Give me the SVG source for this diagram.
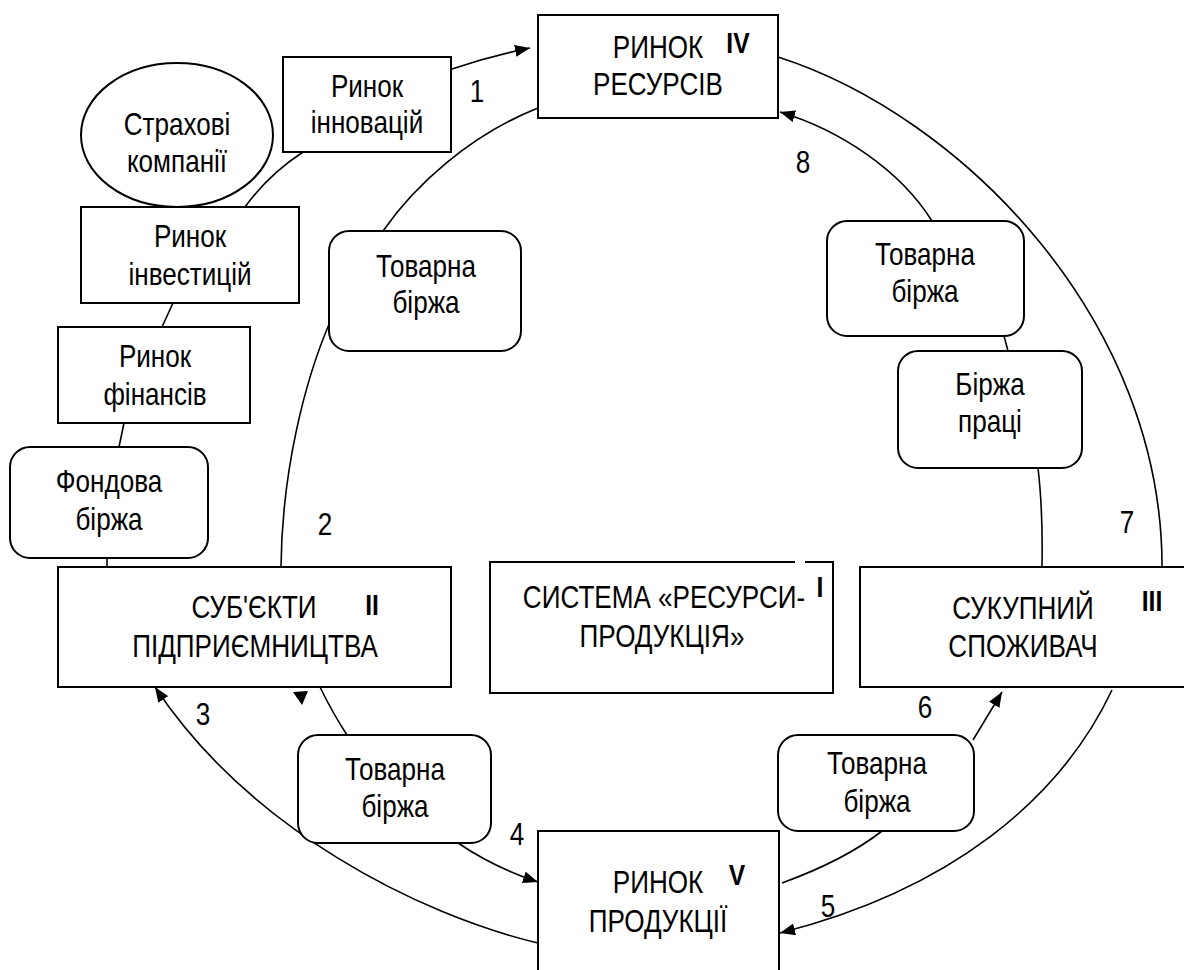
<svg xmlns="http://www.w3.org/2000/svg" width="1184" height="970" viewBox="0 0 1184 970">
<style>
.box{fill:#fff;stroke:#000;stroke-width:2}
.ln{fill:none;stroke:#000;stroke-width:1.6}
.t{font-family:"Liberation Sans",Arial,sans-serif;font-size:30.5px;fill:#000;text-anchor:middle}
.b{font-family:"Liberation Sans",Arial,sans-serif;font-size:29px;font-weight:bold;fill:#000;text-anchor:middle}
.n{font-family:"Liberation Sans",Arial,sans-serif;font-size:30.5px;fill:#000;text-anchor:middle}
</style>
<defs>
<marker id="ah" markerUnits="userSpaceOnUse" markerWidth="16" markerHeight="12" refX="15" refY="6" orient="auto">
<path d="M0,0 L15,6 L0,12 z" fill="#000"/>
</marker>
</defs>
<rect width="1184" height="970" fill="#fff"/>

<g id="connectors">
<path class="ln" d="M452,69 Q490,56 530,48" marker-end="url(#ah)"/>
<path class="ln" d="M303,152 Q268,175 245,207"/>
<path class="ln" d="M173,303 L162,327"/>
<path class="ln" d="M124,423 L119,447"/>
<path class="ln" d="M107,557 L107,567"/>
<path class="ln" d="M538,108 C470,135 415,185 383,231"/>
<path class="ln" d="M330,322 C305,380 282,470 281,567"/>
<path class="ln" d="M538,943 C420,915 250,830 155,687" marker-end="url(#ah)"/>
<path class="ln" d="M347,735 Q332,712 320,687"/>
<polygon points="293,692 308,691 302,705" fill="#000"/>
<path class="ln" d="M458,843 Q495,868 538,882" marker-end="url(#ah)"/>
<path class="ln" d="M782,883 Q845,860 882,831"/>
<path class="ln" d="M973,740 L1002,692" marker-end="url(#ah)"/>
<path class="ln" d="M1112,690 C1060,800 950,890 780,933" marker-end="url(#ah)"/>
<path class="ln" d="M1038,468 Q1043,510 1042,567"/>
<path class="ln" d="M1004,336 L1008,351"/>
<path class="ln" d="M932,221 C900,170 840,130 780,112" marker-end="url(#ah)"/>
<path class="ln" d="M778,57 C960,115 1165,320 1162,572"/>
<polygon points="1153,622 1161,622 1157,629" fill="#000"/>
<text class="n" transform="translate(477,102) scale(0.855,1)">1</text>
<text class="n" transform="translate(325,535) scale(0.855,1)">2</text>
<text class="n" transform="translate(203,725) scale(0.855,1)">3</text>
<text class="n" transform="translate(517,845) scale(0.855,1)">4</text>
<text class="n" transform="translate(828,917) scale(0.855,1)">5</text>
<text class="n" transform="translate(925,718) scale(0.855,1)">6</text>
<text class="n" transform="translate(1127,533) scale(0.855,1)">7</text>
<text class="n" transform="translate(803,173) scale(0.855,1)">8</text>
</g>

<g id="rynok-resursiv">
<rect class="box" x="538" y="15" width="240" height="103"/>
<text class="t" transform="translate(658,58) scale(0.855,1)">РИНОК</text>
<text class="t" transform="translate(658,95) scale(0.855,1)">РЕСУРСІВ</text>
<text class="b" transform="translate(738,53) scale(0.85,1)">IV</text>
</g>

<g id="rynok-innovatsii">
<rect class="box" x="283" y="57" width="168" height="95"/>
<text class="t" transform="translate(367,97) scale(0.855,1)">Ринок</text>
<text class="t" transform="translate(367,133) scale(0.855,1)">інновацій</text>
</g>

<g id="strakhovi">
<ellipse cx="177" cy="135" rx="96" ry="72" fill="#fff" stroke="#000" stroke-width="2"/>
<text class="t" transform="translate(177,135) scale(0.855,1)">Страхові</text>
<text class="t" transform="translate(177,172) scale(0.855,1)">компанії</text>
</g>

<g id="rynok-investytsii">
<rect class="box" x="81" y="207" width="218" height="96"/>
<text class="t" transform="translate(190,247) scale(0.855,1)">Ринок</text>
<text class="t" transform="translate(190,285) scale(0.855,1)">інвестицій</text>
</g>

<g id="rynok-finansiv">
<rect class="box" x="58" y="327" width="192" height="96"/>
<text class="t" transform="translate(155,367) scale(0.855,1)">Ринок</text>
<text class="t" transform="translate(155,405) scale(0.855,1)">фінансів</text>
</g>

<g id="fondova-birzha">
<rect class="box" x="10" y="447" width="198" height="111" rx="20"/>
<text class="t" transform="translate(109,492) scale(0.855,1)">Фондова</text>
<text class="t" transform="translate(109,530) scale(0.855,1)">біржа</text>
</g>

<g id="tovarna-birzha-1">
<rect class="box" x="329" y="231" width="192" height="120" rx="20"/>
<text class="t" transform="translate(426,277) scale(0.855,1)">Товарна</text>
<text class="t" transform="translate(426,313) scale(0.855,1)">біржа</text>
</g>

<g id="subiekty">
<rect class="box" x="58" y="567" width="393" height="120"/>
<text class="t" transform="translate(254,618) scale(0.855,1)">СУБ'ЄКТИ</text>
<text class="t" transform="translate(255,657) scale(0.855,1)">ПІДПРИЄМНИЦТВА</text>
<text class="b" transform="translate(372,615) scale(0.85,1)">II</text>
</g>

<g id="systema">
<path d="M795,562 H490 V693 H833 V562 H805" fill="#fff" stroke="#000" stroke-width="2"/>
<text class="t" transform="translate(664,608) scale(0.855,1)">СИСТЕМА «РЕСУРСИ-</text>
<text class="t" transform="translate(662,647) scale(0.855,1)">ПРОДУКЦІЯ»</text>
<text class="b" transform="translate(820,597) scale(0.85,1)">I</text>
</g>

<g id="sukupnyi">
<rect class="box" x="860" y="567" width="330" height="120"/>
<text class="t" transform="translate(1023,619) scale(0.855,1)">СУКУПНИЙ</text>
<text class="t" transform="translate(1023,657) scale(0.855,1)">СПОЖИВАЧ</text>
<text class="b" transform="translate(1152,611) scale(0.85,1)">III</text>
</g>

<g id="tovarna-birzha-2">
<rect class="box" x="827" y="221" width="197" height="115" rx="20"/>
<text class="t" transform="translate(925,265) scale(0.855,1)">Товарна</text>
<text class="t" transform="translate(925,302) scale(0.855,1)">біржа</text>
</g>

<g id="birzha-pratsi">
<rect class="box" x="898" y="351" width="184" height="117" rx="20"/>
<text class="t" transform="translate(990,395) scale(0.855,1)">Біржа</text>
<text class="t" transform="translate(990,432) scale(0.855,1)">праці</text>
</g>

<g id="tovarna-birzha-3">
<rect class="box" x="298" y="735" width="193" height="108" rx="20"/>
<text class="t" transform="translate(395,780) scale(0.855,1)">Товарна</text>
<text class="t" transform="translate(395,817) scale(0.855,1)">біржа</text>
</g>

<g id="tovarna-birzha-4">
<rect class="box" x="778" y="735" width="196" height="96" rx="20"/>
<text class="t" transform="translate(877,774) scale(0.855,1)">Товарна</text>
<text class="t" transform="translate(877,812) scale(0.855,1)">біржа</text>
</g>

<g id="rynok-produktsii">
<rect class="box" x="538" y="831" width="241" height="150"/>
<text class="t" transform="translate(658,893) scale(0.855,1)">РИНОК</text>
<text class="t" transform="translate(658,932) scale(0.855,1)">ПРОДУКЦІЇ</text>
<text class="b" transform="translate(737,885) scale(0.85,1)">V</text>
</g>
</svg>
